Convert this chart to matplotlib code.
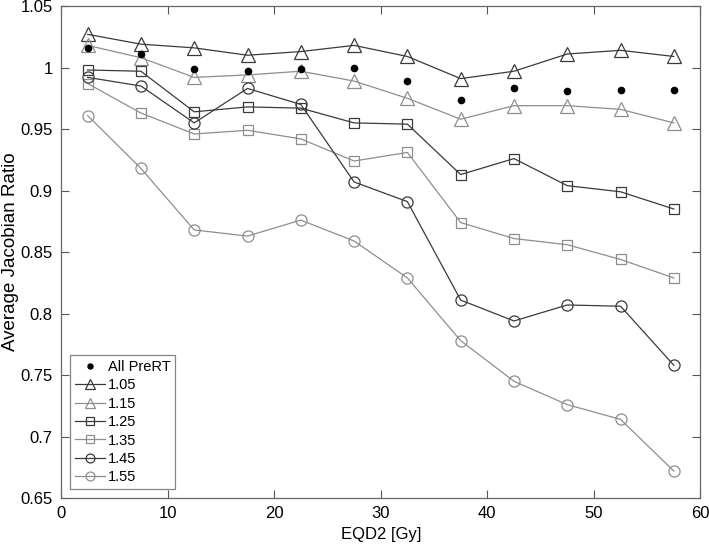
import matplotlib
matplotlib.use('Agg')
import matplotlib.pyplot as plt
from matplotlib.ticker import FuncFormatter

plt.rcParams['font.family'] = ['Liberation Sans', 'DejaVu Sans']

eqd2 = [2.5, 7.5, 12.5, 17.5, 22.5, 27.5, 32.5, 37.5, 42.5, 47.5, 52.5, 57.5]

all_prert = [1.016, 1.011, 0.999, 0.997, 0.999, 1.000, 0.989, 0.974, 0.983, 0.981, 0.982, 0.982]
r105 = [1.027, 1.019, 1.016, 1.010, 1.013, 1.018, 1.009, 0.991, 0.997, 1.011, 1.014, 1.009]
r115 = [1.018, 1.008, 0.992, 0.994, 0.997, 0.989, 0.975, 0.958, 0.969, 0.969, 0.966, 0.955]
r125 = [0.998, 0.997, 0.964, 0.968, 0.967, 0.955, 0.954, 0.913, 0.926, 0.904, 0.899, 0.885]
r135 = [0.987, 0.963, 0.946, 0.949, 0.942, 0.924, 0.931, 0.874, 0.861, 0.856, 0.844, 0.829]
r145 = [0.992, 0.985, 0.955, 0.983, 0.970, 0.907, 0.891, 0.811, 0.794, 0.807, 0.806, 0.758]
r155 = [0.961, 0.918, 0.868, 0.863, 0.876, 0.859, 0.829, 0.778, 0.745, 0.726, 0.714, 0.672]

DARK = '#3a3a3a'
LIGHT = '#8e8e8e'

fig = plt.figure(figsize=(7.09, 5.48), dpi=100)
ax = fig.add_axes([0.086, 0.091, 0.902, 0.898])

ax.plot(eqd2, all_prert, 'o', color='black', ms=4.5, label='All PreRT', zorder=5)
series = [
    (r105, '^', DARK, '1.05'),
    (r115, '^', LIGHT, '1.15'),
    (r125, 's', DARK, '1.25'),
    (r135, 's', LIGHT, '1.35'),
    (r145, 'o', DARK, '1.45'),
    (r155, 'o', LIGHT, '1.55'),
]
sizes = {'^': 9.5, 's': 6.5, 'o': 8}
for vals, mk, col, lab in series:
    ax.plot(eqd2, vals, marker=mk, color=col, mfc='none', mec=col, ms=sizes[mk],
            lw=0.9, mew=0.9, label=lab)

ax.set_xlim(0, 60)
ax.set_ylim(0.65, 1.05)
ax.set_xticks(range(0, 61, 10))
ax.set_yticks([0.65, 0.7, 0.75, 0.8, 0.85, 0.9, 0.95, 1.0, 1.05])
ax.yaxis.set_major_formatter(FuncFormatter(lambda v, p: f'{v:g}'))
ax.tick_params(direction='in', top=True, right=True, labelsize=12, length=6,
               color='#555555', width=0.8, pad=6)
for s in ax.spines.values():
    s.set_color('#666666')
    s.set_linewidth(0.9)

ax.set_xlabel('EQD2 [Gy]', fontsize=12, labelpad=4)
ax.set_ylabel('Average Jacobian Ratio', fontsize=13.5, labelpad=1)

leg = ax.legend(loc='lower left', fontsize=10.5, frameon=True, fancybox=False,
                borderpad=0.35, labelspacing=0.3, handlelength=2.1,
                handletextpad=0.15, borderaxespad=0.6, markerscale=0.8)
leg.get_frame().set_edgecolor('#666666')
leg.get_frame().set_linewidth(0.9)

fig.savefig('out.png', dpi=100)
